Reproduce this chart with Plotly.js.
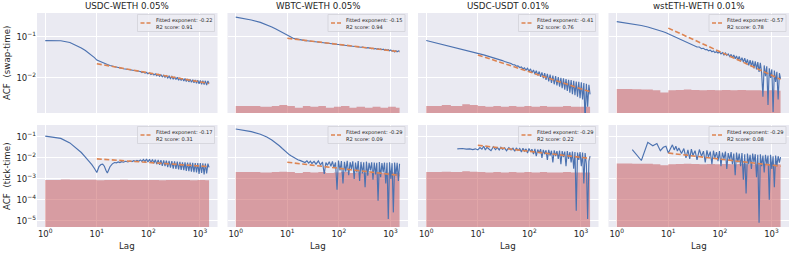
<!DOCTYPE html>
<html><head><meta charset="utf-8">
<script src="https://cdn.plot.ly/plotly-3.0.1.min.js"></script>
<style>html,body{margin:0;padding:0;background:#fff;}#chart{width:793px;height:253px;}</style>
</head><body><div id="chart"></div>
<script>
// ---------------- DATA ----------------
const panelTitles = ['USDC-WETH 0.05%', 'WBTC-WETH 0.05%', 'USDC-USDT 0.01%', 'wstETH-WETH 0.01%'];
const rowLabels = ['ACF\u00a0 (swap-time)', 'ACF\u00a0 (tick-time)'];
const xAxisLabel = 'Lag';

const lags = [1,2,3,4,5,6,7,8,9,10,
  11,12,13,14,15,16,18,20,22,24,
  26,28,30,33,36,40,44,48,52,56,
  60,65,70,75,80,86,92,98,105,112,
  120,128,136,145,155,165,175,186,198,210,
  223,237,252,268,285,303,322,342,363,385,
  408,432,458,485,513,543,575,609,645,683,
  723,765,810,857,907,960,1016,1075,1137,1203,
  1273,1347,1425,1500];

// swap-time ACF
const acfSwapUsdcWeth = [0.080,0.079,0.072,0.062,0.053,0.046,0.040,0.035,0.031,0.027,
  0.0255,0.0242,0.0232,0.0224,0.0216,0.0210,0.0200,0.0192,0.0186,0.0181,
  0.0178,0.0174,0.0171,0.0166,0.0163,0.0158,0.0156,0.0150,0.0152,0.0145,
  0.0147,0.0140,0.0143,0.0135,0.0139,0.0131,0.0135,0.0126,0.0132,0.0121,
  0.0128,0.0117,0.0125,0.0113,0.0122,0.0109,0.0119,0.0106,0.0116,0.0103,
  0.0113,0.0099,0.0110,0.0096,0.0108,0.0093,0.0105,0.0091,0.0103,0.0088,
  0.0100,0.0086,0.0098,0.0084,0.0096,0.0082,0.0094,0.0080,0.0092,0.0078,
  0.0090,0.0076,0.0089,0.0074,0.0088,0.0072,0.0087,0.0070,0.0086,0.0069,
  0.0085,0.0067,0.0084,0.0073];
const acfSwapWbtcWeth = [0.295,0.252,0.220,0.193,0.170,0.152,0.137,0.124,0.113,0.104,
  0.098,0.094,0.091,0.089,0.087,0.085,0.083,0.081,0.080,0.079,
  0.078,0.077,0.076,0.075,0.074,0.073,0.072,0.0712,0.0705,0.0698,
  0.0690,0.0682,0.0676,0.0668,0.0663,0.0655,0.0650,0.0643,0.0640,0.0630,
  0.0627,0.0618,0.0616,0.0606,0.0604,0.0594,0.0593,0.0582,0.0583,0.0571,
  0.0573,0.0560,0.0563,0.0550,0.0554,0.0540,0.0545,0.0530,0.0537,0.0521,
  0.0529,0.0512,0.0521,0.0503,0.0514,0.0495,0.0507,0.0487,0.0500,0.0480,
  0.0494,0.0472,0.0487,0.0463,0.0480,0.0455,0.0474,0.0440,0.0462,0.0425,
  0.0455,0.0430,0.0450,0.0440];
const acfSwapUsdcUsdt = [0.080,0.065,0.058,0.053,0.049,0.047,0.044,0.043,0.041,0.040,
  0.0385,0.0372,0.0360,0.0350,0.0342,0.0333,0.0318,0.0305,0.0295,0.0285,
  0.0277,0.0268,0.0262,0.0250,0.0243,0.0228,0.0222,0.0208,0.0206,0.0192,
  0.0195,0.0178,0.0184,0.0165,0.0176,0.0155,0.0170,0.0145,0.0165,0.0133,
  0.0155,0.0124,0.0150,0.0115,0.0142,0.0106,0.0136,0.0098,0.0130,0.0090,
  0.0125,0.0082,0.0120,0.0076,0.0114,0.0070,0.0110,0.0066,0.0105,0.0061,
  0.0100,0.0056,0.0097,0.0052,0.0094,0.0048,0.0090,0.0044,0.0088,0.0040,
  0.0085,0.0038,0.0082,0.0035,0.0080,0.0032,0.0078,0.0030,0.0075,0.0009,
  0.0072,0.0020,0.0068,0.0040];
const acfSwapWstethWeth = [0.230,0.205,0.185,0.170,0.158,0.148,0.139,0.131,0.124,0.117,
  0.111,0.106,0.101,0.097,0.093,0.090,0.084,0.079,0.075,0.071,
  0.068,0.066,0.062,0.061,0.056,0.056,0.051,0.052,0.048,0.049,
  0.045,0.047,0.043,0.045,0.041,0.043,0.040,0.042,0.038,0.041,
  0.036,0.040,0.035,0.038,0.033,0.037,0.031,0.036,0.029,0.034,
  0.027,0.033,0.025,0.031,0.024,0.030,0.022,0.028,0.020,0.027,
  0.019,0.026,0.017,0.025,0.016,0.024,0.014,0.023,0.013,0.0035,
  0.020,0.011,0.019,0.0022,0.017,0.010,0.016,0.0015,0.015,0.008,
  0.014,0.003,0.013,0.0095];

// tick-time ACF
const acfTickUsdcWeth = [0.110,0.085,0.052,0.030,0.018,0.011,0.0072,0.0048,0.0031,0.0020,
  0.0038,0.0048,0.0050,0.0040,0.0026,0.0019,0.0038,0.0052,0.0060,0.0058,
  0.0064,0.0060,0.0066,0.0062,0.0069,0.0064,0.0071,0.0067,0.0074,0.0068,
  0.0076,0.0069,0.0080,0.0068,0.0084,0.0066,0.0088,0.0064,0.0086,0.0060,
  0.0084,0.0055,0.0082,0.0050,0.0080,0.0046,0.0078,0.0042,0.0076,0.0040,
  0.0074,0.0036,0.0072,0.0034,0.0070,0.0031,0.0068,0.0030,0.0066,0.0028,
  0.0064,0.0027,0.0062,0.0026,0.0061,0.0024,0.0060,0.0023,0.0059,0.0022,
  0.0058,0.0021,0.0057,0.0020,0.0056,0.0017,0.0056,0.0019,0.0055,0.0016,
  0.0054,0.0018,0.0053,0.0035];
const acfTickWbtcWeth = [0.240,0.180,0.135,0.100,0.072,0.052,0.038,0.028,0.021,0.016,
  0.0140,0.0122,0.0108,0.0097,0.0090,0.0082,0.0074,0.0066,0.0060,0.0072,
  0.0056,0.0070,0.0054,0.0068,0.0050,0.0072,0.0046,0.0064,0.0017,0.0060,
  0.0044,0.0066,0.0040,0.0068,0.0034,0.0060,0.0003,0.0075,0.0025,0.0070,
  0.0006,0.0065,0.0022,0.0072,0.0015,0.0062,0.0030,0.0068,0.0010,0.0060,
  0.0020,0.0070,0.0008,0.0064,0.0018,0.0062,0.0004,0.0066,0.0014,0.0058,
  0.0025,0.0062,0.0009,0.0060,0.0016,0.0058,0.00009,0.0064,0.0012,0.0056,
  0.0020,0.0060,0.0006,0.0058,0.000012,0.0062,0.0010,0.0056,0.000025,0.0060,
  0.0014,0.0058,0.0008,0.0052];
const acfTickUsdcUsdt = [null,null,null,0.027,0.028,0.026,0.027,0.025,0.027,0.024,
  0.031,0.026,0.036,0.024,0.032,0.028,0.022,0.034,0.025,0.031,
  0.024,0.032,0.026,0.030,0.022,0.031,0.024,0.029,0.021,0.030,
  0.023,0.028,0.019,0.029,0.021,0.027,0.017,0.028,0.020,0.026,
  0.015,0.027,0.012,0.025,0.017,0.026,0.010,0.024,0.015,0.023,
  0.008,0.024,0.013,0.022,0.006,0.023,0.012,0.021,0.009,0.022,
  0.005,0.021,0.011,0.020,0.004,0.021,0.009,0.019,0.006,0.020,
  0.003,0.019,0.00003,0.018,0.008,0.019,0.004,0.018,0.0006,0.017,
  0.005,0.000012,0.007,0.012];
const acfTickWstethWeth = [null,0.025,0.0075,0.055,0.038,0.048,0.022,0.032,0.036,0.017,
  0.030,0.042,0.024,0.036,0.021,0.030,0.016,0.028,0.010,0.024,
  0.009,0.026,0.013,0.022,0.008,0.025,0.012,0.021,0.006,0.023,
  0.011,0.020,0.005,0.022,0.010,0.019,0.007,0.021,0.004,0.018,
  0.009,0.020,0.003,0.017,0.008,0.019,0.005,0.016,0.0015,0.018,
  0.006,0.016,0.004,0.017,0.0009,0.015,0.0002,0.016,0.005,0.014,
  0.003,0.016,0.006,0.015,0.0012,0.014,0.000008,0.015,0.004,0.013,
  0.002,0.014,0.005,0.013,0.0001,0.014,0.003,0.012,0.0004,0.013,
  0.004,0.012,0.006,0.011];

// fitted power laws (value at first and last fitted lag)
const fitLags = [10, 1500];
const fitStartValues = [0.022, 0.091, 0.036, 0.16, 0.009, 0.0062, 0.040, 0.017];
const fitEndValues = [0.0073, 0.043, 0.0046, 0.0092, 0.0038, 0.00145, 0.0094, 0.0040];
const fitExponents = ['-0.22', '-0.15', '-0.41', '-0.57', '-0.17', '-0.29', '-0.29', '-0.29'];
const r2Scores = ['0.91', '0.94', '0.76', '0.78', '0.31', '0.09', '0.22', '0.08'];

// significance band (bars), per pool
const bandLags = [1,2,3,5,7,10,14,20,28,40,56,80,110,160,220,320,450,640,900,1270,1500];
const bandUsdcWeth = [0.00088,0.00092,0.00090,0.00091,0.00090,0.00086,0.00089,0.00087,0.00090,0.00088,0.00089,0.00087,0.00088,0.00086,0.00089,0.00087,0.00088,0.00086,0.00087,0.00086,0.00086];
const bandWbtcWeth = [0.0021,0.0021,0.0020,0.0021,0.0022,0.0021,0.0019,0.0021,0.0020,0.0021,0.0019,0.0020,0.0021,0.0019,0.0020,0.0019,0.0020,0.0019,0.0020,0.0019,0.0019];
const bandUsdcUsdt = [0.0021,0.0022,0.0021,0.0023,0.0022,0.0021,0.0020,0.0021,0.0020,0.0021,0.0020,0.0021,0.0020,0.0021,0.0020,0.0020,0.0021,0.0020,0.0020,0.0020,0.0020];
const bandWstethWeth = [0.0054,0.0053,0.0052,0.0050,0.0044,0.0050,0.0051,0.0052,0.0051,0.0050,0.0051,0.0050,0.0051,0.0050,0.0051,0.0050,0.0050,0.0049,0.0050,0.0049,0.0049];

const xTickVals = [1, 10, 100, 1000];
const xTickText = ['10<sup>0</sup>', '10<sup>1</sup>', '10<sup>2</sup>', '10<sup>3</sup>'];
const yTickValsSwap = [0.1, 0.01];
const yTickTextSwap = ['10<sup>\u22121</sup>', '10<sup>\u22122</sup>'];
const yTickValsTick = [0.1, 0.01, 0.001, 0.0001, 0.00001];
const yTickTextTick = ['10<sup>\u22121</sup>', '10<sup>\u22122</sup>', '10<sup>\u22123</sup>', '10<sup>\u22124</sup>', '10<sup>\u22125</sup>'];

// ---------------- BUILD ----------------
const acfSeries = [acfSwapUsdcWeth, acfSwapWbtcWeth, acfSwapUsdcUsdt, acfSwapWstethWeth,
                   acfTickUsdcWeth, acfTickWbtcWeth, acfTickUsdcUsdt, acfTickWstethWeth];
const bandSeries = [bandUsdcWeth, bandWbtcWeth, bandUsdcUsdt, bandWstethWeth];

const W = 793, H = 253;
const FONT = 'DejaVu Sans, sans-serif';
const TXT = '#262626';
const colLeft = [37, 227.5, 418, 608.5];
const colW = 180.5;
const rowTop = [13, 125];
const rowH = [100, 102];
const yRanges = [[-2.85, -0.43], [-5.3, -0.43]];
const xRange = [-0.16, 3.34];

const data = [];
const layout = {
  width: W, height: H,
  margin: {l: 0, r: 0, t: 0, b: 0},
  paper_bgcolor: '#ffffff',
  plot_bgcolor: '#EAEAF2',
  showlegend: false,
  font: {family: FONT, color: TXT},
  annotations: [],
  shapes: []
};

for (let p = 0; p < 8; p++) {
  const r = Math.floor(p / 4), c = p % 4;
  const s = p === 0 ? '' : String(p + 1);
  const xa = 'x' + s, ya = 'y' + s;
  const x0 = colLeft[c] / W, x1 = (colLeft[c] + colW) / W;
  const y1 = 1 - rowTop[r] / H, y0 = 1 - (rowTop[r] + rowH[r]) / H;

  layout['xaxis' + s] = {
    type: 'log', domain: [x0, x1], anchor: ya, range: xRange,
    showgrid: true, gridcolor: '#ffffff', gridwidth: 1,
    zeroline: false, showline: false, ticks: '',
    tickmode: 'array', tickvals: xTickVals, ticktext: xTickText,
    showticklabels: r === 1,
    tickfont: {family: FONT, size: 8.5, color: TXT}, fixedrange: true
  };
  layout['yaxis' + s] = {
    type: 'log', domain: [y0, y1], anchor: xa, range: yRanges[r],
    showgrid: true, gridcolor: '#ffffff', gridwidth: 1,
    zeroline: false, showline: false, ticks: '',
    tickmode: 'array',
    tickvals: r === 0 ? yTickValsSwap : yTickValsTick,
    ticktext: r === 0 ? yTickTextSwap : yTickTextTick,
    showticklabels: c === 0,
    tickfont: {family: FONT, size: 8.5, color: TXT}, fixedrange: true
  };

  // band (bars)
  data.push({
    type: 'scatter', mode: 'lines', x: bandLags, y: bandSeries[c],
    xaxis: xa, yaxis: ya, fill: 'tozeroy', fillcolor: 'rgba(196,78,82,0.5)',
    line: {width: 0, shape: 'hv', color: 'rgba(196,78,82,0.5)'}, hoverinfo: 'skip'
  });
  // ACF line
  data.push({
    type: 'scatter', mode: 'lines', x: lags, y: acfSeries[p],
    xaxis: xa, yaxis: ya, connectgaps: false,
    line: {color: '#4C72B0', width: 1.15}, hoverinfo: 'skip'
  });
  // fit line
  data.push({
    type: 'scatter', mode: 'lines', x: fitLags, y: [fitStartValues[p], fitEndValues[p]],
    xaxis: xa, yaxis: ya,
    line: {color: '#DD8452', width: 1.6, dash: '5px,2.5px'}, hoverinfo: 'skip'
  });

  // legend box
  const bw = 77, bh = 17, inR = 3, inT = 1.5;
  const bx1 = 1 - inR / colW, bx0 = bx1 - bw / colW;
  const by1 = 1 - inT / rowH[r], by0 = by1 - bh / rowH[r];
  const dxref = xa + ' domain', dyref = ya + ' domain';
  layout.shapes.push({
    type: 'rect', xref: dxref, yref: dyref, x0: bx0, x1: bx1, y0: by0, y1: by1,
    fillcolor: 'rgba(236,236,243,0.85)', line: {color: '#d2d2d8', width: 0.8}, layer: 'above'
  });
  const byc = (by0 + by1) / 2;
  layout.shapes.push({
    type: 'line', xref: dxref, yref: dyref,
    x0: bx0 + 3 / colW, x1: bx0 + 15 / colW, y0: byc, y1: byc,
    line: {color: '#DD8452', width: 1.6, dash: '4px,2px'}, layer: 'above'
  });
  layout.annotations.push({
    xref: dxref, yref: dyref, x: bx0 + 17 / colW, y: byc, xanchor: 'left', yanchor: 'middle',
    align: 'left', showarrow: false, borderpad: 0,
    text: 'Fitted exponent: ' + fitExponents[p] + '<br>R2 score: ' + r2Scores[p],
    font: {family: FONT, size: 5.1, color: TXT}
  });

  if (r === 0) {
    layout.annotations.push({
      xref: 'paper', yref: 'paper', x: (x0 + x1) / 2, y: 1 - 6 / H,
      xanchor: 'center', yanchor: 'middle', showarrow: false,
      text: panelTitles[c], font: {family: FONT, size: 8.7, color: TXT}
    });
  } else {
    layout.annotations.push({
      xref: 'paper', yref: 'paper', x: (x0 + x1) / 2, y: 1 - 246 / H,
      xanchor: 'center', yanchor: 'middle', showarrow: false,
      text: xAxisLabel, font: {family: FONT, size: 8.7, color: TXT}
    });
  }
}
for (let r = 0; r < 2; r++) {
  layout.annotations.push({
    xref: 'paper', yref: 'paper', x: 7 / W, y: 1 - (rowTop[r] + rowH[r] / 2) / H,
    xanchor: 'center', yanchor: 'middle', textangle: -90, showarrow: false,
    text: rowLabels[r], font: {family: FONT, size: 8.7, color: TXT}
  });
}

Plotly.newPlot('chart', data, layout, {staticPlot: true, displayModeBar: false});
</script>
</body></html>
